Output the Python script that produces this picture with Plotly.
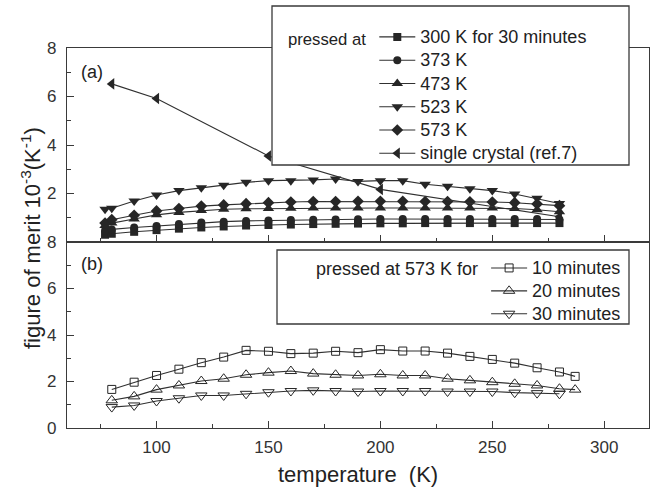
import plotly.graph_objects as go

# ---------------- data ----------------
# panel (a): samples pressed at different temperatures (30 minutes)
x_a = [77, 80, 90, 100, 110, 120, 130, 140, 150, 160, 170, 180, 190, 200, 210, 220, 230, 240, 250, 260, 270, 280]
z_300K = [0.30, 0.34, 0.42, 0.49, 0.55, 0.60, 0.64, 0.68, 0.70, 0.72, 0.74, 0.75, 0.76, 0.77, 0.77, 0.78, 0.78, 0.78, 0.78, 0.78, 0.78, 0.78]
z_373K = [0.47, 0.52, 0.60, 0.66, 0.74, 0.80, 0.84, 0.87, 0.89, 0.91, 0.92, 0.93, 0.94, 0.95, 0.95, 0.95, 0.95, 0.95, 0.95, 0.95, 0.95, 0.93]
z_473K = [0.68, 0.78, 0.95, 1.12, 1.22, 1.30, 1.35, 1.37, 1.38, 1.39, 1.40, 1.40, 1.40, 1.40, 1.40, 1.40, 1.40, 1.40, 1.40, 1.38, 1.33, 1.25]
z_523K = [1.35, 1.39, 1.69, 1.94, 2.12, 2.24, 2.34, 2.46, 2.53, 2.53, 2.56, 2.60, 2.50, 2.53, 2.53, 2.38, 2.30, 2.20, 2.12, 1.98, 1.80, 1.59]
z_573K = [0.78, 0.92, 1.10, 1.28, 1.38, 1.48, 1.53, 1.58, 1.62, 1.65, 1.67, 1.67, 1.68, 1.68, 1.68, 1.67, 1.67, 1.66, 1.65, 1.62, 1.57, 1.50]
x_single = [80, 100, 150, 200, 280]
z_single = [6.52, 5.92, 3.55, 2.17, 1.04]

# panel (b): pressed at 573 K for different times
x_b = [80, 90, 100, 110, 120, 130, 140, 150, 160, 170, 180, 190, 200, 210, 220, 230, 240, 250, 260, 270, 280, 287]
z_10min = [1.66, 1.97, 2.26, 2.53, 2.81, 3.05, 3.34, 3.30, 3.20, 3.22, 3.30, 3.24, 3.37, 3.31, 3.31, 3.22, 3.08, 2.95, 2.79, 2.59, 2.41, 2.22]
z_20min = [1.19, 1.36, 1.65, 1.83, 2.02, 2.12, 2.29, 2.38, 2.45, 2.34, 2.29, 2.26, 2.31, 2.26, 2.26, 2.12, 2.05, 1.97, 1.90, 1.83, 1.69, 1.65]
x_b30 = [80, 90, 100, 110, 120, 130, 140, 150, 160, 170, 180, 190, 200, 210, 220, 230, 240, 250, 260, 270, 280]
z_30min = [0.90, 0.97, 1.16, 1.28, 1.40, 1.40, 1.47, 1.54, 1.59, 1.62, 1.59, 1.57, 1.59, 1.59, 1.59, 1.57, 1.57, 1.57, 1.52, 1.50, 1.47]

x_ticks = [100, 150, 200, 250, 300]
y_ticks_a = [2, 4, 6, 8]
y_ticks_b = [0, 2, 4, 6, 8]

FONT = "Liberation Sans, Arial, sans-serif"
INK = "#262626"
LINE = "#303030"

def lbl(s, size=18):
    return f'<span style="font-size:{size}px">{s}</span>'

fig = go.Figure()

top_series = [
    ("300 K for 30 minutes", z_300K, "square", 8),
    ("373 K", z_373K, "circle", 8),
    ("473 K", z_473K, "triangle-up", 10),
    ("523 K", z_523K, "triangle-down", 10),
    ("573 K", z_573K, "diamond", 9),
]
for name, ys, sym, sz in top_series:
    fig.add_trace(go.Scatter(
        x=x_a, y=ys, name=lbl(name), mode="lines+markers",
        line=dict(color=LINE, width=1.1),
        marker=dict(symbol=sym, size=sz, color=INK, line=dict(width=0)),
        xaxis="x2", yaxis="y2", legend="legend"))
fig.add_trace(go.Scatter(
    x=x_single, y=z_single, name=lbl("single crystal (ref.7)"), mode="lines+markers",
    line=dict(color=LINE, width=1.1),
    marker=dict(symbol="triangle-left", size=10, color=INK),
    xaxis="x2", yaxis="y2", legend="legend"))

bottom_series = [
    ("10 minutes", x_b, z_10min, "square-open", 8),
    ("20 minutes", x_b, z_20min, "triangle-up-open", 10),
    ("30 minutes", x_b30, z_30min, "triangle-down-open", 10),
]
for name, xs, ys, sym, sz in bottom_series:
    fig.add_trace(go.Scatter(
        x=xs, y=ys, name=lbl(name), mode="lines+markers",
        line=dict(color=LINE, width=1.1),
        marker=dict(symbol=sym, size=sz, color=INK, line=dict(width=1, color=INK)),
        xaxis="x", yaxis="y", legend="legend2"))

split = 186 / 380

axis_common = dict(
    showline=True, linecolor="#3a3a3a", linewidth=1.2, mirror=True,
    ticks="inside", ticklen=7, tickwidth=1.2, tickcolor="#3a3a3a",
    showgrid=False, zeroline=False, automargin=False,
    tickfont=dict(family=FONT, size=17, color="#333333"),
)
minor_x = dict(dtick=25, tick0=0, ticks="inside", ticklen=4, tickcolor="#3a3a3a", tickwidth=1.2)
minor_y = dict(dtick=1, tick0=0, ticks="inside", ticklen=4, tickcolor="#3a3a3a", tickwidth=1.2)

fig.update_layout(
    width=651, height=487,
    margin=dict(l=67, r=2, t=48, b=59, autoexpand=False),
    paper_bgcolor="white", plot_bgcolor="white",
    font=dict(family=FONT, color="#333333"),
    xaxis=dict(**axis_common, range=[60, 320], tickvals=x_ticks, anchor="y",
               ticklabelstandoff=3, minor=minor_x),
    xaxis2=dict(**axis_common, range=[60, 320], tickvals=x_ticks, anchor="y2",
                matches="x", showticklabels=False, minor=minor_x),
    yaxis=dict(**axis_common, range=[0, 8], tickvals=y_ticks_b, domain=[0, split], anchor="x",
               ticklabelstandoff=6, minor=minor_y),
    yaxis2=dict(**axis_common, range=[0, 8], tickvals=y_ticks_a, domain=[split, 1], anchor="x2",
                ticklabelstandoff=6, minor=minor_y),
    legend=dict(
        title=dict(text=lbl("pressed at", 16.7), side="left"),
        x=(286 - 67) / 582, xanchor="left", y=1.073, yanchor="top",
        bgcolor="rgba(0,0,0,0)", borderwidth=0,
        font=dict(family=FONT, size=15.6, color="#222222"),
        itemwidth=36, tracegroupgap=0,
    ),
    legend2=dict(
        title=dict(text=lbl("pressed at 573 K for"), side="left"),
        x=(314 - 67) / 582, xanchor="left", y=0.4645, yanchor="top",
        bgcolor="rgba(0,0,0,0)", borderwidth=0,
        font=dict(family=FONT, size=15.3, color="#222222"),
        itemwidth=36, tracegroupgap=0,
    ),
    shapes=[
        dict(type="rect", xref="paper", yref="paper", x0=(272 - 67) / 582, x1=(629 - 67) / 582,
             y0=(428 - 165) / 380, y1=(428 - 6) / 380, layer="above",
             fillcolor="white", line=dict(color="#3a3a3a", width=1.3)),
        dict(type="rect", xref="paper", yref="paper", x0=(277 - 67) / 582, x1=(629 - 67) / 582,
             y0=(428 - 324) / 380, y1=(428 - 250) / 380, layer="above",
             fillcolor="white", line=dict(color="#3a3a3a", width=1.3)),
    ],
    annotations=[
        dict(text="(a)", xref="paper", yref="paper", x=(92 - 67) / 582, y=(428 - 72) / 380,
             xanchor="center", yanchor="middle", showarrow=False,
             font=dict(family=FONT, size=18, color="#222222")),
        dict(text="(b)", xref="paper", yref="paper", x=(92 - 67) / 582, y=(428 - 264) / 380,
             xanchor="center", yanchor="middle", showarrow=False,
             font=dict(family=FONT, size=18, color="#222222")),
        dict(text="temperature  (K)", xref="paper", yref="paper", x=0.5, y=(428 - 474) / 380,
             xanchor="center", yanchor="middle", showarrow=False,
             font=dict(family=FONT, size=22, color="#222222")),
        dict(text="figure of merit 10<sup>-3</sup>(K<sup>-1</sup>)", xref="paper", yref="paper",
             x=(31 - 67) / 582, y=0.5, textangle=-90,
             xanchor="center", yanchor="middle", showarrow=False,
             font=dict(family=FONT, size=22, color="#222222")),
    ],
    showlegend=True,
)

fig.write_html("out.html", config={"displayModeBar": False},
               post_script="document.body.style.margin='0';document.body.style.padding='0';")
